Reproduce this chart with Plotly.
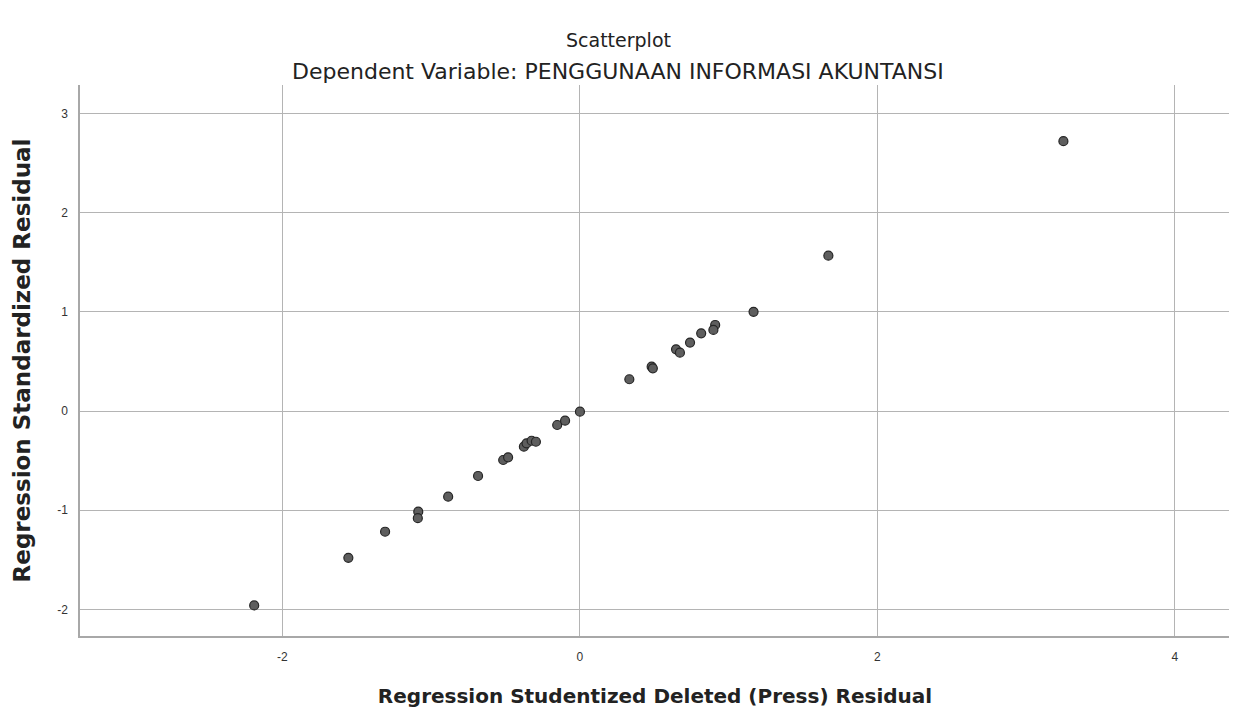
import plotly.graph_objects as go

# Data
studentized_deleted_residual = [
    -2.19, -1.557, -1.31, -1.087, -1.09, -0.886, -0.685, -0.516, -0.483,
    -0.377, -0.359, -0.325, -0.296, -0.153, -0.10, 0.0, 0.332, 0.482, 0.49,
    0.646, 0.672, 0.74, 0.815, 0.909, 0.897, 1.167, 1.67, 3.25,
]
standardized_residual = [
    -1.96, -1.48, -1.217, -1.015, -1.08, -0.864, -0.655, -0.494, -0.467,
    -0.36, -0.326, -0.30, -0.31, -0.141, -0.098, -0.007, 0.32, 0.447, 0.43,
    0.622, 0.588, 0.69, 0.783, 0.867, 0.817, 1.00, 1.566, 2.72,
]

x_tick_values = [-2, 0, 2, 4]
x_tick_labels = ["-2", "0", "2", "4"]
y_tick_values = [-2, -1, 0, 1, 2, 3]
y_tick_labels = ["-2", "-1", "0", "1", "2", "3"]

title_text = "Scatterplot"
subtitle_text = "Dependent Variable: PENGGUNAAN INFORMASI AKUNTANSI"
x_title = "Regression Studentized Deleted (Press) Residual"
y_title = "Regression Standardized Residual"

FONT = "DejaVu Sans, Liberation Sans, sans-serif"
TICKFONT = "Liberation Sans, Arial, sans-serif"
GRID = "#b4b4b4"
PAGE_OFFSET = 8  # default page margin of the html body

fig = go.Figure()
fig.add_trace(go.Scatter(
    x=studentized_deleted_residual,
    y=standardized_residual,
    mode="markers",
    marker=dict(size=9, color="#5e5e5e", line=dict(width=1.2, color="#262626")),
    showlegend=False,
    hoverinfo="x+y",
))

fig.update_layout(
    width=1237 - PAGE_OFFSET,
    height=718 - PAGE_OFFSET,
    margin=dict(l=80 - PAGE_OFFSET, r=7, t=85 - PAGE_OFFSET, b=82),
    paper_bgcolor="white",
    plot_bgcolor="white",
    font=dict(family=FONT, color="#222222"),
    annotations=[
        dict(text=title_text, xref="paper", yref="paper", x=0.468, y=1,
             yshift=45, showarrow=False, font=dict(size=19, family=FONT, color="#222"),
             xanchor="center", yanchor="middle"),
        dict(text=subtitle_text, xref="paper", yref="paper", x=0.468, y=1,
             yshift=14, showarrow=False, font=dict(size=22, family=FONT, color="#222"),
             xanchor="center", yanchor="middle"),
    ],
)

fig.update_xaxes(
    range=[-3.361, 4.370],
    tickvals=x_tick_values,
    ticktext=x_tick_labels,
    showgrid=True, gridcolor=GRID, gridwidth=1,
    zeroline=False,
    showline=True, linecolor="#a8a8a8", linewidth=1.5,
    ticks="", tickfont=dict(size=12, color="#333", family=TICKFONT),
    ticklabelstandoff=9,
    title=dict(text="<b>" + x_title + "</b>", font=dict(size=20, family=FONT, color="#222"), standoff=26),
)
fig.update_yaxes(
    range=[-2.268, 3.286],
    tickvals=y_tick_values,
    ticktext=y_tick_labels,
    showgrid=True, gridcolor=GRID, gridwidth=1,
    zeroline=False,
    showline=True, linecolor="#a8a8a8", linewidth=1.5,
    ticks="", tickfont=dict(size=12, color="#333", family=TICKFONT),
    ticklabelstandoff=8,
    title=dict(text="<b>" + y_title + "</b>", font=dict(size=23, family=FONT, color="#222"), standoff=20),
)

fig.write_html("out.html")
